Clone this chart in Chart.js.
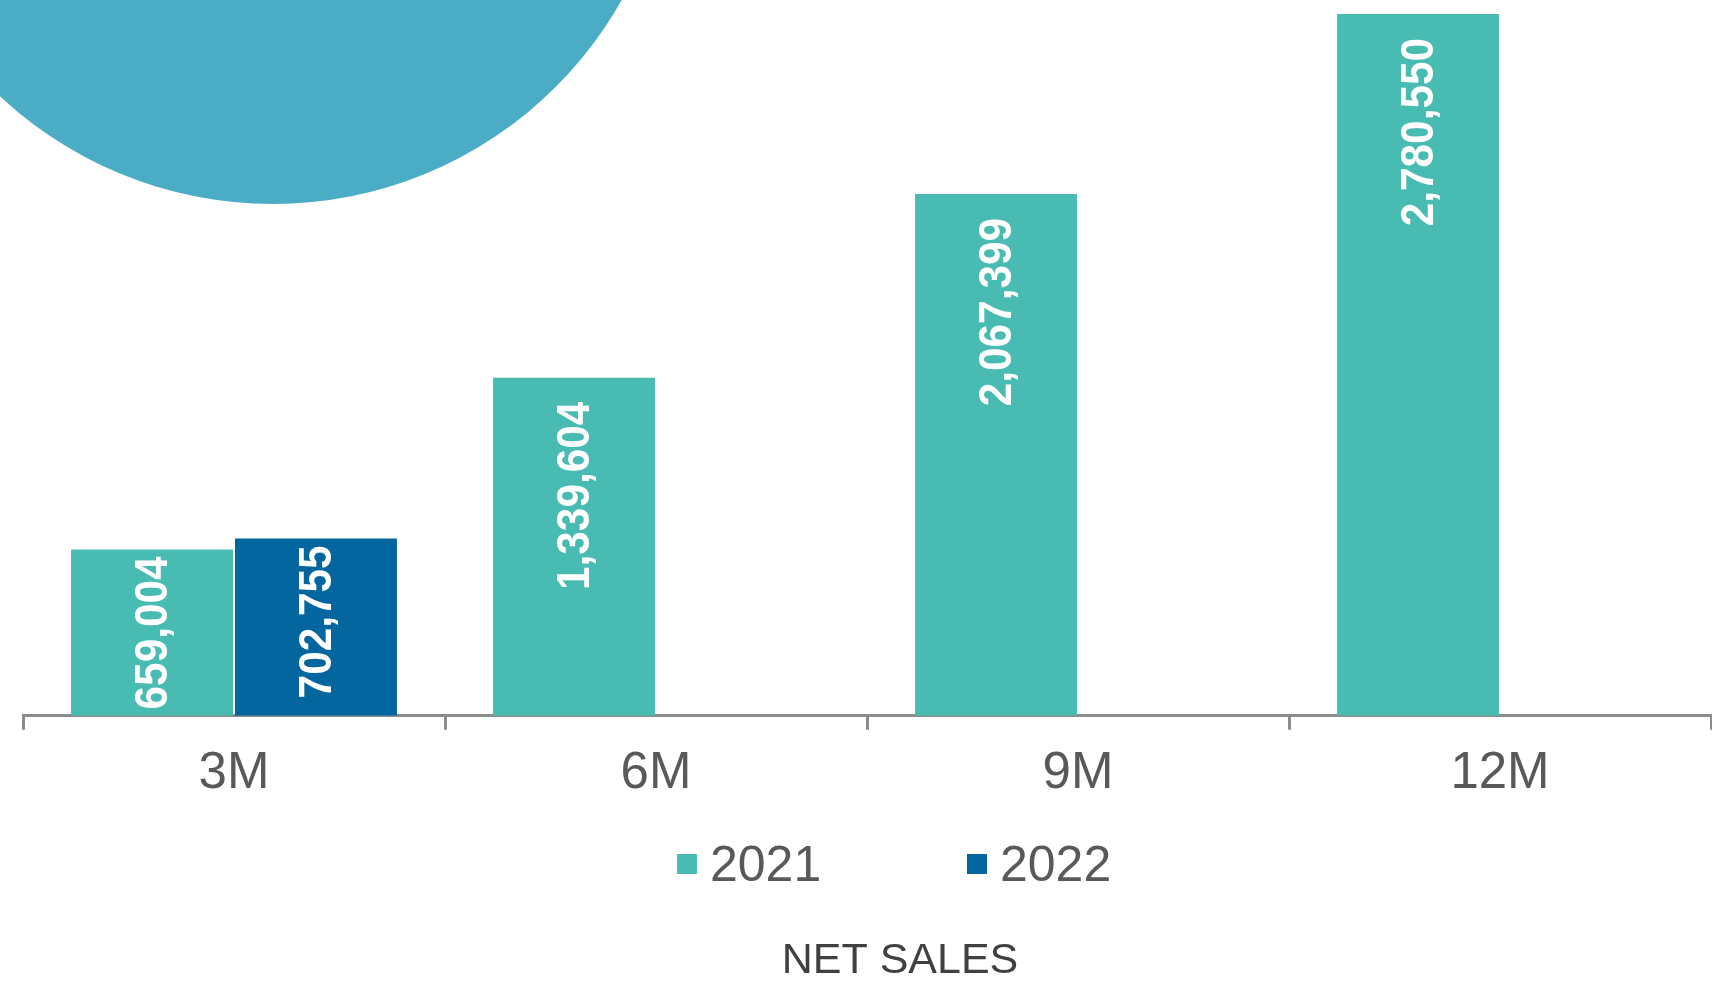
<!DOCTYPE html>
<html>
<head>
<meta charset="utf-8">
<title>Net Sales</title>
<script src="https://cdn.jsdelivr.net/npm/chart.js@4.4.1/dist/chart.umd.min.js"></script>
<style>
    html, body { margin: 0; padding: 0; background: #ffffff; }
    #wrap { position: relative; width: 1712px; height: 985px; overflow: hidden; }
    #netSales { position: absolute; left: 0; top: 0; }
    #legend {
        position: absolute; left: 677px; top: 834px; height: 60px;
        display: flex;
        font-family: 'Liberation Sans', Arial, sans-serif;
        font-size: 50px; line-height: 60px; color: #595959;
    }
    .legend-item { display: flex; align-items: center; width: 290px; }
    .legend-box { width: 20px; height: 20px; margin-right: 13px; }
</style>
</head>
<body>
<div id="wrap">
    <canvas id="netSales" width="1712" height="985"></canvas>
    <div id="legend"></div>
</div>
<script>
// ==========================================
// DATA
// ==========================================

const categories = ['3M', '6M', '9M', '12M'];
const seriesNames = ['2021', '2022'];
const sales2021 = [659004, 1339604, 2067399, 2780550];
const sales2022 = [702755, null, null, null];

const FONT = "'Liberation Sans', Arial, sans-serif";

// ==========================================
// PLUGINS
// ==========================================

// big decorative circle in the top-left corner
const backdropCircle = {
    id: 'backdropCircle',
    beforeDraw(chart) {
        const ctx = chart.ctx;
        ctx.save();
        ctx.fillStyle = '#4BACC6';
        ctx.beginPath();
        ctx.arc(273, -196, 400, 0, Math.PI * 2);
        ctx.fill();
        ctx.restore();
    }
};

// white vertical value labels inside the bars
const barValueLabels = {
    id: 'barValueLabels',
    afterDatasetsDraw(chart) {
        const ctx = chart.ctx;
        const squeeze = 0.92; // original font is a bit narrower
        ctx.save();
        ctx.font = 'bold 46px ' + FONT;
        ctx.fillStyle = '#ffffff';
        ctx.textAlign = 'right';
        ctx.textBaseline = 'middle';
        chart.data.datasets.forEach((ds, i) => {
            chart.getDatasetMeta(i).data.forEach((bar, j) => {
                const v = ds.data[j];
                if (v == null) return;
                const text = v.toLocaleString('en-US');
                const len = ctx.measureText(text).width * squeeze;
                const room = (bar.base - bar.y) - len;
                // plenty of room -> sit lower, otherwise hug the top
                const pad = room > 60 ? 24 : Math.max(3, Math.min(7, room - 4));
                ctx.save();
                ctx.translate(bar.x + 2, bar.y + pad);
                ctx.rotate(-Math.PI / 2);
                ctx.scale(squeeze, 1);
                ctx.fillText(text, 0, 0);
                ctx.restore();
            });
        });
        ctx.restore();
    }
};

// legend as html under the axis
const htmlLegend = {
    id: 'htmlLegend',
    afterUpdate(chart) {
        const box = document.getElementById('legend');
        box.innerHTML = '';
        const items = chart.options.plugins.legend.labels.generateLabels(chart);
        items.forEach(item => {
            const el = document.createElement('div');
            el.className = 'legend-item';
            const sw = document.createElement('span');
            sw.className = 'legend-box';
            sw.style.background = item.fillStyle;
            const txt = document.createElement('span');
            txt.textContent = item.text;
            el.appendChild(sw);
            el.appendChild(txt);
            box.appendChild(el);
        });
    }
};

// title sits a little right of the plot centre in the original
const nudgeTitle = {
    id: 'nudgeTitle',
    afterLayout(chart) {
        if (chart.titleBlock) {
            chart.titleBlock.left += 33;
            chart.titleBlock.right += 33;
        }
    }
};

// ==========================================
// CHART
// ==========================================

const ctx = document.getElementById('netSales').getContext('2d');
const netSalesChart = new Chart(ctx, {
    type: 'bar',
    data: {
        labels: categories,
        datasets: [
            {
                label: seriesNames[0],
                data: sales2021,
                backgroundColor: '#48BBB2'
            },
            {
                label: seriesNames[1],
                data: sales2022,
                backgroundColor: '#03669E'
            }
        ]
    },
    options: {
        responsive: false,
        animation: false,
        categoryPercentage: 0.777,
        barPercentage: 0.988,
        layout: {
            padding: { left: 23, right: 1, top: 0, bottom: 0 }
        },
        plugins: {
            legend: { display: false },
            tooltip: { enabled: false },
            title: {
                display: true,
                position: 'bottom',
                text: 'NET SALES',
                color: '#404040',
                font: { family: FONT, size: 43, weight: 'normal', lineHeight: 1 },
                padding: { top: 121, bottom: 2 }
            }
        },
        scales: {
            y: {
                display: false,
                min: 0,
                max: 2836000
            },
            x: {
                grid: {
                    display: true,
                    drawOnChartArea: false,
                    tickLength: 14,
                    color: '#8C8C8C',
                    lineWidth: 3
                },
                border: { display: true, color: '#8C8C8C', width: 3 },
                ticks: {
                    color: '#595959',
                    padding: 14,
                    font: { family: FONT, size: 51, lineHeight: 1.2 }
                }
            }
        }
    },
    plugins: [backdropCircle, barValueLabels, htmlLegend, nudgeTitle]
});
</script>
</body>
</html>
